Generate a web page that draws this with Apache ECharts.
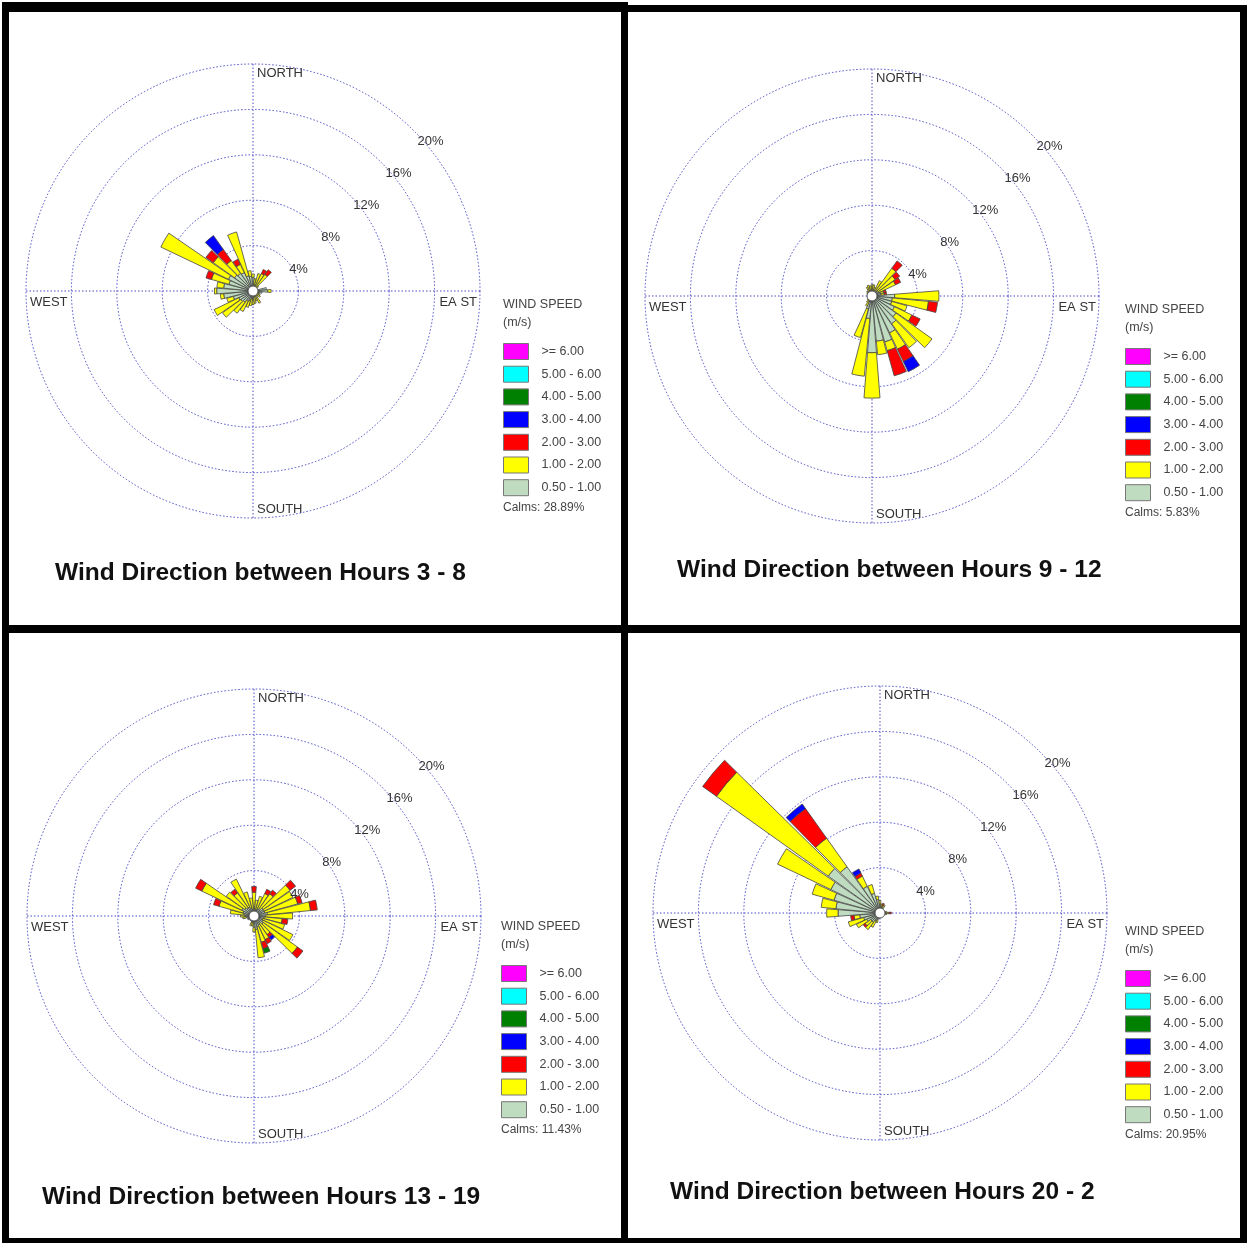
<!DOCTYPE html>
<html>
<head>
  <meta charset="utf-8">
  <title>Wind Direction by Hours</title>
  <script src="https://cdn.jsdelivr.net/npm/echarts@6/dist/echarts.min.js"></script>
</head>
<body style="margin: 0; background: #fff;">
  <div id="container" style="width: 1247px; height: 1243px;"></div>
  <script>
    // 36 sectors, degrees clockwise from north
    var directions = [0, 10, 20, 30, 40, 50, 60, 70, 80, 90, 100, 110, 120, 130, 140, 150, 160, 170,
                      180, 190, 200, 210, 220, 230, 240, 250, 260, 270, 280, 290, 300, 310, 320, 330, 340, 350];
    var speedClasses = ['0.50 - 1.00', '1.00 - 2.00', '2.00 - 3.00', '3.00 - 4.00', '4.00 - 5.00', '5.00 - 6.00', '>= 6.00'];
    var speedColors = ['#c0dcc0', '#ffff00', '#ff0000', '#0000ff', '#008000', '#00ffff', '#ff00ff'];
    var ringMax = 20, ringStep = 4;
    var dirLabels = ['NORTH', 'EA ST', 'SOUTH', 'WEST'];
    var titles = ['Wind Direction between Hours 3 - 8', 'Wind Direction between Hours 9 - 12',
                  'Wind Direction between Hours 13 - 19', 'Wind Direction between Hours 20 - 2'];
    var calms = ['28.89%', '5.83%', '11.43%', '20.95%'];

    // hours 3 - 8 (% frequency per speed class)
    var h38_05 = [1.2, 0.5, 0.4, 0.4, 0.3, 0.3, 0.3, 0.4, 1.2, 1.3, 0.8, 0.4, 0.3, 0.3, 0.3, 0.4, 0.4, 0.5,
                  0.8, 0.7, 0.9, 1.0, 1.2, 1.3, 1.4, 1.8, 2.6, 3.2, 2.6, 2.2, 2.4, 2.0, 1.9, 1.8, 1.4, 1.3];
    var h38_1 = [0.3, 0.6, 1.2, 1.3, 1.5, 0.3, 0, 0, 0, 0.3, 0, 0.2, 0.4, 0.5, 0.3, 0.8, 0.5, 0.6,
                 0.4, 0.6, 0.6, 1.0, 1.2, 2.0, 2.4, 0.6, 0.3, 0.2, 0.6, 1.6, 6.6, 2.3, 1.4, 0.8, 4.0, 0.5];
    var h38_2 = [0, 0, 0, 0.4, 0.5, 0, 0, 0, 0, 0, 0, 0, 0, 0, 0, 0, 0, 0,
                 0, 0, 0, 0, 0, 0, 0, 0, 0, 0, 0, 0.5, 0, 0.8, 1.2, 0.5, 0, 0];
    var h38_3 = [0, 0, 0, 0, 0, 0, 0, 0, 0, 0, 0, 0, 0, 0, 0, 0, 0, 0,
                 0, 0, 0, 0, 0, 0, 0, 0, 0, 0, 0, 0, 0, 0, 1.5, 0, 0, 0];

    // hours 9 - 12
    var h912_05 = [0.6, 0.5, 0.5, 0.5, 0.6, 0.6, 0.7, 0.8, 0.8, 2.0, 1.8, 1.8, 2.2, 2.6, 3.0, 3.6, 4.2, 4.0,
                   5.0, 2.0, 1.2, 0.6, 0.4, 0.3, 0.3, 0.2, 0.2, 0.3, 0.2, 0.3, 0.3, 0.3, 0.3, 0.4, 0.4, 0.5];
    var h912_1 = [0.4, 0.5, 0.3, 1.0, 2.4, 1.9, 1.6, 0.3, 0.3, 3.9, 3.2, 1.4, 1.7, 3.9, 2.6, 1.6, 0.8, 1.2,
                  4.0, 5.1, 2.6, 0.4, 0.3, 0.2, 0, 0, 0, 0, 0, 0, 0.2, 0.3, 0.3, 0.5, 0.6, 0.4];
    var h912_2 = [0, 0, 0, 0, 0.8, 0.5, 0.5, 0.2, 0.2, 0, 0.8, 0, 0.8, 0, 0, 1.2, 2.3, 0,
                  0, 0, 0, 0, 0, 0, 0, 0, 0, 0, 0, 0, 0, 0, 0, 0, 0, 0];
    var h912_3 = [0, 0, 0, 0, 0, 0, 0, 0, 0, 0, 0, 0, 0, 0, 0, 1.0, 0, 0,
                  0, 0, 0, 0, 0, 0, 0, 0, 0, 0, 0, 0, 0, 0, 0, 0, 0, 0];

    // hours 13 - 19
    var h1319_05 = [0.8, 0.6, 0.6, 0.7, 0.8, 1.0, 1.0, 1.0, 1.2, 1.0, 0.9, 0.8, 0.9, 1.0, 0.8, 0.9, 1.0, 1.2,
                    1.0, 0.6, 0.6, 0.5, 0.5, 0.5, 0.6, 0.6, 0.7, 0.8, 0.9, 1.0, 1.2, 1.0, 0.9, 0.9, 0.7, 0.6];
    var h1319_1 = [1.3, 0.8, 1.2, 1.5, 1.6, 2.9, 2.8, 3.0, 3.8, 2.4, 1.6, 2.0, 2.9, 3.7, 1.2, 1.4, 1.4, 2.5,
                   0.4, 0.3, 0.3, 0, 0, 0, 0, 0, 0.3, 0.4, 1.2, 2.2, 3.9, 2.0, 1.6, 2.7, 1.5, 1.0];
    var h1319_2 = [0.5, 0, 0, 0.4, 0.4, 0.6, 0, 0.4, 0.6, 0, 0.5, 0, 0, 0.6, 0.3, 0.4, 0.6, 0,
                   0, 0, 0, 0, 0, 0, 0, 0, 0, 0, 0, 0.5, 0.6, 0, 0.4, 0, 0, 0];
    var h1319_3 = [0, 0, 0, 0, 0, 0, 0, 0, 0, 0, 0, 0, 0, 0, 0.3, 0, 0, 0,
                   0, 0, 0, 0, 0, 0, 0, 0, 0, 0, 0, 0, 0, 0, 0, 0, 0, 0];
    var h1319_4 = [0, 0, 0, 0, 0, 0, 0, 0, 0, 0, 0, 0, 0, 0, 0, 0, 0.4, 0,
                   0, 0, 0, 0, 0, 0, 0, 0, 0, 0, 0, 0, 0, 0, 0, 0, 0, 0];

    // hours 20 - 2
    var h202_05 = [0.8, 0.6, 0.5, 0.5, 0.4, 0.3, 0.3, 0.3, 0.4, 0.5, 0.4, 0.3, 0.3, 0.3, 0.3, 0.3, 0.3, 0.3,
                   0.4, 0.5, 0.6, 0.8, 1.0, 1.0, 1.3, 1.5, 1.8, 3.7, 3.9, 4.2, 4.8, 5.6, 5.0, 2.6, 1.8, 1.2];
    var h202_1 = [0.3, 0.2, 0.2, 0.3, 0, 0, 0, 0, 0.2, 0.3, 0.2, 0, 0, 0, 0, 0, 0, 0,
                  0, 0, 0.3, 0.6, 0.8, 0.6, 1.0, 1.4, 0.5, 1.0, 1.3, 2.0, 5.2, 12.1, 3.1, 1.0, 0.8, 0.3];
    var h202_2 = [0, 0, 0.2, 0, 0, 0, 0, 0, 0, 0.2, 0, 0, 0, 0, 0, 0, 0, 0,
                  0, 0, 0, 0, 0, 0.2, 0, 0, 0.3, 0, 0, 0, 0, 1.5, 3.2, 0.3, 0, 0];
    var h202_3 = [0, 0, 0, 0, 0, 0, 0, 0, 0, 0, 0, 0, 0, 0, 0, 0, 0, 0,
                  0, 0, 0, 0, 0, 0, 0, 0, 0, 0, 0, 0, 0, 0, 0.5, 0.4, 0, 0];

    var panels = [
      { values: [h38_05, h38_1, h38_2, h38_3, [], [], []], center: [253, 291], legend: [503, 305], title: [55, 573] },
      { values: [h912_05, h912_1, h912_2, h912_3, [], [], []], center: [872, 296], legend: [1125, 310], title: [677, 570] },
      { values: [h1319_05, h1319_1, h1319_2, h1319_3, h1319_4, [], []], center: [254, 916], legend: [501, 927], title: [42, 1197] },
      { values: [h202_05, h202_1, h202_2, h202_3, [], [], []], center: [880, 913], legend: [1125, 932], title: [670, 1192] }
    ];

    var FONT = "'Liberation Sans', Arial, sans-serif";
    var R = 227;
    var gridLine = { color: '#4b4bc8', width: 1, type: [1.5, 2] };
    var hidden = { axisLine: { show: false }, axisTick: { show: false }, axisLabel: { show: false }, splitLine: { show: false } };

    var dom = document.getElementById('container');
    var myChart = echarts.init(dom, null, { renderer: 'canvas' });

    var polar = [], angleAxis = [], radiusAxis = [], series = [], legend = [], graphic = [];

    panels.forEach(function (p, i) {
      var cx = p.center[0], cy = p.center[1];
      var barIdx = 3 * i, gridIdx = 3 * i + 1, labIdx = 3 * i + 2;
      polar.push({ center: p.center, radius: R }, { center: p.center, radius: R }, { center: p.center, radius: R });

      // bars: 36 categories centred on their bearing
      angleAxis.push(Object.assign({
        polarIndex: barIdx, type: 'category', data: directions, boundaryGap: false,
        startAngle: 90, clockwise: true
      }, hidden));
      radiusAxis.push(Object.assign({ polarIndex: barIdx, type: 'value', min: 0, max: ringMax }, hidden));

      // dotted rings and the N/E/S/W cross
      angleAxis.push({
        polarIndex: gridIdx, type: 'value', min: 0, max: 360, interval: 90, startAngle: 90, clockwise: true,
        axisLine: { show: false }, axisTick: { show: false }, axisLabel: { show: false },
        splitLine: { show: true, lineStyle: gridLine }
      });
      radiusAxis.push({
        polarIndex: gridIdx, type: 'value', min: 0, max: ringMax, interval: ringStep,
        axisLine: { show: false }, axisTick: { show: false }, axisLabel: { show: false },
        splitLine: { show: true, lineStyle: gridLine }
      });

      // ring labels along the 45 degree line
      angleAxis.push(Object.assign({ polarIndex: labIdx, type: 'value', min: 0, max: 360, startAngle: 45 }, hidden));
      radiusAxis.push({
        polarIndex: labIdx, type: 'value', min: 0, max: ringMax, interval: ringStep, z: 50,
        axisLine: { show: false }, axisTick: { show: false }, splitLine: { show: false },
        axisLabel: {
          show: true, margin: -5.7, align: 'left', verticalAlign: 'top',
          fontSize: 13, color: '#333', fontFamily: FONT,
          formatter: function (v) { return v ? v + '%' : ''; }
        }
      });

      p.values.forEach(function (arr, k) {
        series.push({
          type: 'bar', coordinateSystem: 'polar', polarIndex: barIdx, stack: 'rose' + i,
          name: speedClasses[k], barCategoryGap: '10%', silent: true,
          data: arr.map(function (v) { return v || null; }),
          itemStyle: { color: speedColors[k], borderColor: '#444', borderWidth: 0.8 }
        });
      });

      legend.push({
        data: speedClasses.slice().reverse(), orient: 'vertical',
        left: p.legend[0], top: p.legend[1] + 38,
        itemWidth: 25, itemHeight: 16, itemGap: 5.7, padding: 0, selectedMode: false, icon: 'rect',
        itemStyle: { borderColor: '#777', borderWidth: 1 },
        textStyle: { fontSize: 12.5, color: '#444', fontFamily: FONT, padding: [0, 0, 0, 8] }
      });

      graphic.push(
        { type: 'text', style: { text: 'WIND SPEED', x: p.legend[0], y: p.legend[1], verticalAlign: 'middle', font: '12.5px ' + FONT, fill: '#444' } },
        { type: 'text', style: { text: '(m/s)', x: p.legend[0], y: p.legend[1] + 18, verticalAlign: 'middle', font: '12.5px ' + FONT, fill: '#444' } },
        { type: 'text', style: { text: 'Calms: ' + calms[i], x: p.legend[0], y: p.legend[1] + 203, verticalAlign: 'middle', font: '12px ' + FONT, fill: '#444' } },
        { type: 'text', style: { text: titles[i], x: p.title[0], y: p.title[1], verticalAlign: 'middle', font: 'bold 24.5px ' + FONT, fill: '#111' } },
        { type: 'text', style: { text: dirLabels[0], x: cx + 4, y: cy - R + 9, verticalAlign: 'middle', font: '13px ' + FONT, fill: '#333' } },
        { type: 'text', style: { text: dirLabels[1], x: cx + R - 3, y: cy + 11, align: 'right', verticalAlign: 'middle', font: '13px ' + FONT, fill: '#333' } },
        { type: 'text', style: { text: dirLabels[2], x: cx + 4, y: cy + R - 9, verticalAlign: 'middle', font: '13px ' + FONT, fill: '#333' } },
        { type: 'text', style: { text: dirLabels[3], x: cx - R + 4, y: cy + 11, verticalAlign: 'middle', font: '13px ' + FONT, fill: '#333' } },
        { type: 'circle', z: 100, shape: { cx: cx, cy: cy, r: 5 }, style: { fill: '#fff', stroke: '#555', lineWidth: 1 } }
      );
    });

    // panel frames
    [[2, 2, 626, 10], [621, 5, 626, 7], [2, 2, 7, 1241], [621, 2, 7, 1241],
     [1240, 5, 7, 1238], [2, 625, 1245, 8], [2, 1238, 1245, 5]].forEach(function (b) {
      graphic.push({ type: 'rect', z: 100, shape: { x: b[0], y: b[1], width: b[2], height: b[3] }, style: { fill: '#000' } });
    });

    myChart.setOption({
      animation: false,
      backgroundColor: '#fff',
      polar: polar,
      angleAxis: angleAxis,
      radiusAxis: radiusAxis,
      legend: legend,
      series: series,
      graphic: graphic
    });

    window.addEventListener('resize', myChart.resize);
  </script>
</body>
</html>
